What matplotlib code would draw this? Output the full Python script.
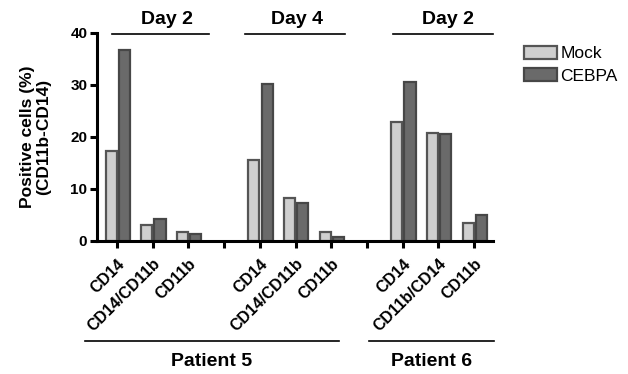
import matplotlib
matplotlib.use("Agg")
import matplotlib.pyplot as plt
from matplotlib.lines import Line2D
from matplotlib.patches import Patch
import numpy as np

plt.rcParams['font.family'] = ['Liberation Sans', 'DejaVu Sans']

categories = ["CD14", "CD14/CD11b", "CD11b", "",
              "CD14", "CD14/CD11b", "CD11b", "",
              "CD14", "CD11b/CD14", "CD11b"]
mock = [17.4, 3.0, 1.8, None, 15.6, 8.2, 1.8, None, 22.9, 20.8, 3.4]
cebpa = [36.7, 4.2, 1.3, None, 30.1, 7.4, 0.8, None, 30.5, 20.6, 5.0]
day_labels = ["Day 2", "Day 4", "Day 2"]
patient_labels = ["Patient 5", "Patient 6"]
series_names = ["Mock", "CEBPA"]
yticks = [0, 10, 20, 30, 40]

W, H = 628, 374
fig = plt.figure(figsize=(W / 100, H / 100), dpi=100)
ax = fig.add_axes([97 / W, 1 - 241 / H, (493 - 97) / W, (241 - 33) / H])

x = np.arange(len(categories))
idx = [i for i, v in enumerate(mock) if v is not None]
mv = [mock[i] for i in idx]
cv = [cebpa[i] for i in idx]
xi = np.array(idx)
bw = 0.31
ax.bar(xi - 0.165, mv, width=bw, color="#cfcfcf", edgecolor="#555555", linewidth=1.6, zorder=2)
ax.bar(xi + 0.205, cv, width=bw, color="#6a6a6a", edgecolor="#474747", linewidth=1.6, zorder=2)

ax.set_xlim(-0.56, 10.53)
ax.set_ylim(0, 40)
ax.set_yticks(yticks)
ax.set_yticklabels([str(t) for t in yticks], fontsize=11, fontweight="bold")
ax.set_xticks(x)
ax.set_xticklabels(categories, rotation=45, ha="right", rotation_mode="anchor",
                   fontsize=11.5, fontweight="bold")
for s in ["top", "right"]:
    ax.spines[s].set_visible(False)
for s in ["left", "bottom"]:
    ax.spines[s].set_linewidth(2.2)
    ax.spines[s].set_color("black")
ax.tick_params(axis="both", direction="out", length=5, width=2.2, color="black", pad=2)
ax.tick_params(axis="x", pad=6)

ax.set_ylabel("Positive cells (%)\n(CD11b-CD14)", fontsize=12.5, fontweight="bold",
              linespacing=1.1)
ax.yaxis.set_label_coords((51 - 97) / (493 - 97), 0.5)

def fx(px):
    return px / W

def fy(py):
    return 1 - py / H

# Day group lines and labels
day_lines = [(112, 209), (245, 345), (393, 493)]
day_text_x = [167, 297, 448]
for (a, b), tx, lab in zip(day_lines, day_text_x, day_labels):
    fig.add_artist(Line2D([fx(a), fx(b)], [fy(34), fy(34)], color="black", lw=1.2))
    fig.text(fx(tx), fy(20), lab, ha="center", va="center", fontsize=14, fontweight="bold")

# Patient lines and labels
pat_lines = [(85, 339), (369, 494)]
for (a, b), lab in zip(pat_lines, patient_labels):
    fig.add_artist(Line2D([fx(a), fx(b)], [fy(341), fy(341)], color="black", lw=1.2))
    fig.text(fx((a + b) / 2), fy(362), lab, ha="center", va="center", fontsize=14, fontweight="bold")

handles = [Patch(facecolor="#cfcfcf", edgecolor="#555555", linewidth=1.6),
           Patch(facecolor="#6a6a6a", edgecolor="#474747", linewidth=1.6)]
fig.legend(handles, series_names, loc="upper left", bbox_to_anchor=(fx(524), fy(46)),
           frameon=False, fontsize=12.5, handlelength=1.9, handleheight=0.75,
           handletextpad=0.2, labelspacing=0.4, borderpad=0, borderaxespad=0)

fig.savefig("out.png", dpi=100)
